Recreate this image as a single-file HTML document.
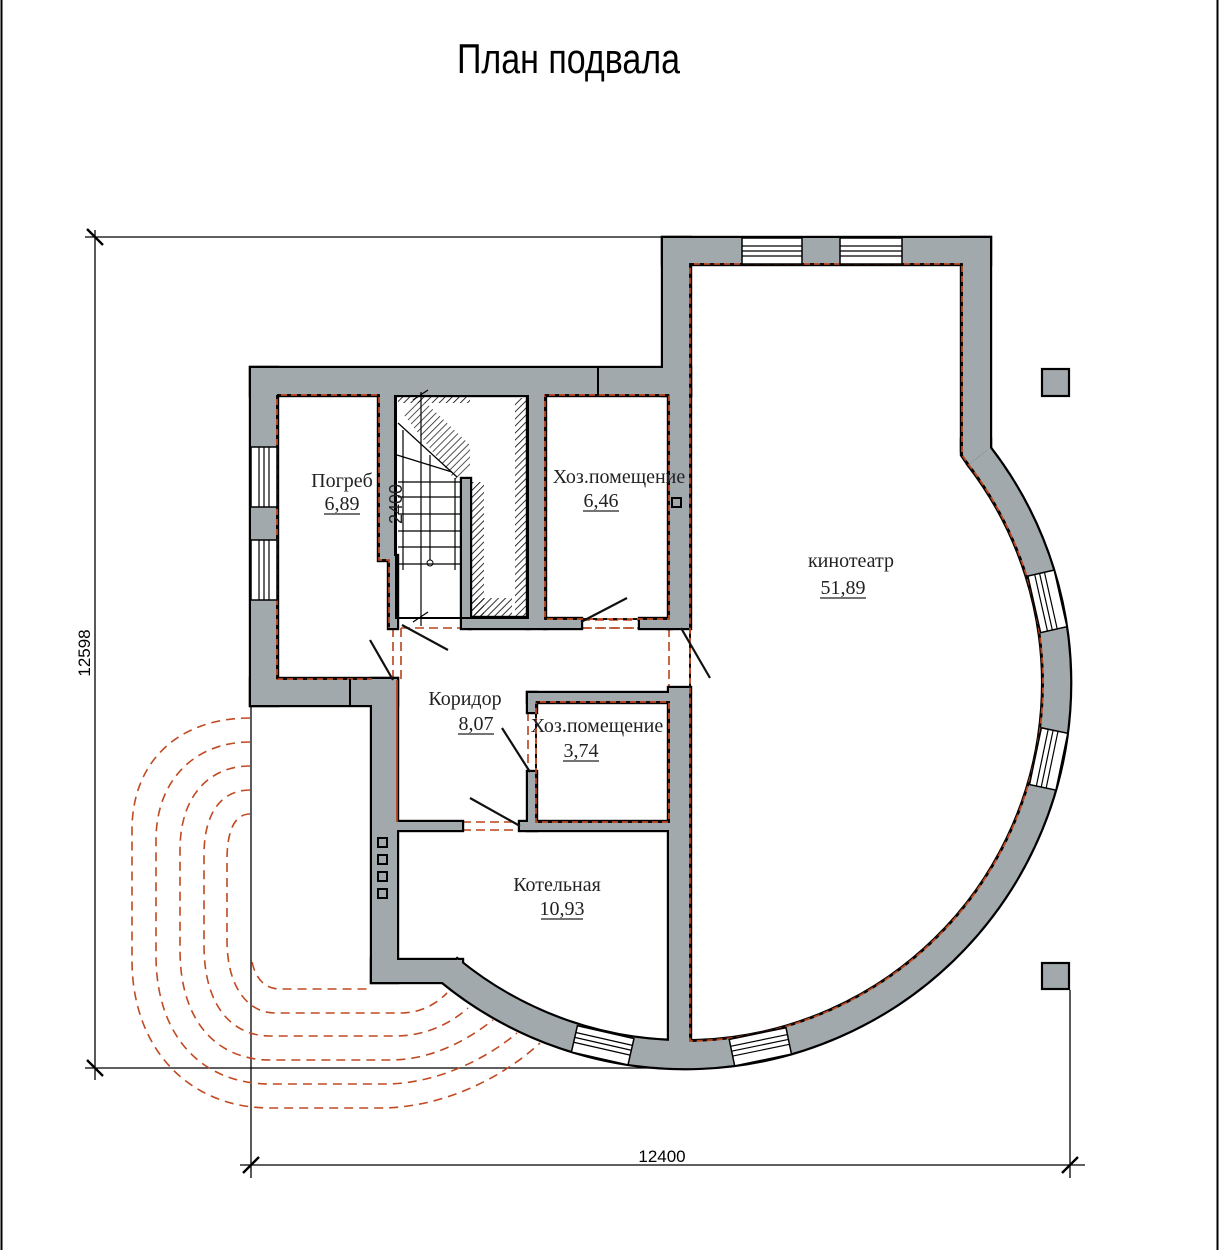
<!DOCTYPE html>
<html><head><meta charset="utf-8"><style>
html,body{margin:0;padding:0;background:#fff}
svg{display:block}
.t{font-family:"Liberation Serif",serif;font-size:20px;fill:#222}
.o{fill:none;stroke:#b8431c;stroke-width:1.6;stroke-dasharray:9 5}
.rd{fill:none;stroke:#b8431c;stroke-width:1.8}
.bd{fill:none;stroke:#000;stroke-width:1.8;stroke-dasharray:4 6}
.d{stroke:#111;stroke-width:2.2}
.win{fill:#fff;stroke:#000;stroke-width:1.5}
.l{stroke:#000;stroke-width:1.2}
</style></head><body>
<svg width="1220" height="1250" viewBox="0 0 1220 1250" xmlns="http://www.w3.org/2000/svg" xmlns:xlink="http://www.w3.org/1999/xlink">
<defs>
<pattern id="h" width="5" height="5" patternUnits="userSpaceOnUse" patternTransform="rotate(45)">
<line x1="0" y1="0" x2="0" y2="5" stroke="#000" stroke-width="1.6"/>
</pattern>
<g id="walls">
<path d="M990,448 A385,385 0 0 1 440,980 L457.3,959.4 A358,358 0 0 0 968.6,464.6 Z"/>
<polygon points="962,440 990,440 990,448 968.6,464.6 962,455"/>
<rect x="663" y="238" width="327" height="26"/>
<rect x="663" y="238" width="27" height="157"/>
<rect x="962" y="238" width="28" height="212"/>
<rect x="251" y="368" width="439" height="27"/>
<rect x="251" y="368" width="26" height="337"/>
<rect x="251" y="679" width="146" height="26"/>
<rect x="372" y="679" width="25" height="303"/>
<rect x="372" y="960" width="90" height="22"/>
<rect x="669" y="688" width="21" height="354"/>
<rect x="669" y="390" width="21" height="238"/>
<rect x="379" y="390" width="15" height="170"/>
<rect x="389" y="556" width="8" height="72"/>
<rect x="462" y="479" width="8" height="149"/>
<rect x="470" y="618" width="58" height="10"/>
<rect x="528" y="390" width="17" height="238"/>
<rect x="545" y="619" width="36" height="9"/>
<rect x="640" y="619" width="31" height="9"/>
<rect x="528" y="693" width="143" height="9"/>
<rect x="528" y="693" width="8" height="19"/>
<rect x="528" y="772" width="8" height="58"/>
<rect x="520" y="822" width="151" height="8"/>
<rect x="395" y="822" width="67" height="8"/>
</g>
</defs>
<line x1="1.5" y1="0" x2="1.5" y2="1250" stroke="#000" stroke-width="2"/>
<line x1="1217.5" y1="0" x2="1217.5" y2="1250" stroke="#000" stroke-width="2"/>
<text x="457" y="73" font-family="Liberation Sans, sans-serif" font-size="42" textLength="223" lengthAdjust="spacingAndGlyphs">План подвала</text>

<g stroke="#000" stroke-width="1.3">
<line x1="95" y1="230" x2="95" y2="1080"/>
<line x1="85" y1="237" x2="665" y2="237"/>
<line x1="85" y1="1068" x2="680" y2="1068"/>
<line x1="240" y1="1165" x2="1085" y2="1165"/>
<line x1="251" y1="705" x2="251" y2="1178"/>
<line x1="1070" y1="990" x2="1070" y2="1178"/>
</g>
<g stroke="#000" stroke-width="2.4">
<line x1="87" y1="229" x2="103" y2="245"/>
<line x1="87" y1="1060" x2="103" y2="1076"/>
<line x1="243" y1="1173" x2="259" y2="1157"/>
<line x1="1062" y1="1173" x2="1078" y2="1157"/>
</g>
<text x="90" y="653" font-family="Liberation Sans, sans-serif" font-size="17" transform="rotate(-90 90 653)" text-anchor="middle">12598</text>
<text x="662" y="1162" font-family="Liberation Sans, sans-serif" font-size="17" text-anchor="middle">12400</text>

<g fill="none" stroke="#c04a22" stroke-width="1.6" stroke-dasharray="9 6">
<path d="M250,718 C180,718 132,760 132,830 V960 C132,1050 190,1108 270,1108 H380 C440,1108 500,1080 540,1043"/>
<path d="M250,742 C195,742 156,780 156,840 V955 C156,1040 205,1084 270,1084 H385 C435,1084 485,1060 517,1033"/>
<path d="M250,766 C210,766 180,795 180,850 V950 C180,1025 220,1060 270,1060 H390 C430,1060 465,1042 493,1020"/>
<path d="M250,790 C222,790 204,812 204,855 V945 C204,1010 235,1036 270,1036 H395 C425,1036 450,1024 468,1008"/>
<path d="M250,814 C236,814 227,828 227,860 V940 C227,990 250,1013 275,1013 H400 C420,1013 435,1005 447,993"/>
<path d="M252,962 C256,980 266,989 280,989 H372"/>
</g>

<g class="o">
<line x1="581" y1="620" x2="640" y2="620"/><line x1="581" y1="628" x2="640" y2="628"/>
<line x1="393" y1="628" x2="393" y2="680"/><line x1="401" y1="628" x2="401" y2="680"/>
<line x1="669" y1="628" x2="669" y2="688"/><line x1="690" y1="628" x2="690" y2="688"/>
<line x1="462" y1="822" x2="520" y2="822"/><line x1="462" y1="830" x2="520" y2="830"/>
<line x1="528" y1="712" x2="528" y2="772"/><line x1="536" y1="712" x2="536" y2="772"/>
<line x1="401" y1="628" x2="669" y2="628"/>
</g>

<use xlink:href="#walls" href="#walls" fill="#a2a9ad" stroke="#000" stroke-width="4.4"/>
<use xlink:href="#walls" href="#walls" fill="#a2a9ad" stroke="none"/>

<g>
<path class="rd" d="M277,395 H379 V560 H389 V628 M277,395 V679 H372"/>
<rect class="rd" x="545" y="395" width="124" height="224"/>
<rect class="rd" x="536" y="702" width="133" height="120"/>
<path class="rd" d="M397,680 V822 M669,702 V822"/>
<path class="rd" d="M690,264 H962 V455 L968.6,464.6 A358,358 0 0 1 690,1041 Z"/>
<path class="bd" d="M277,395 H379 V560 H389 V628 M277,395 V679 H372"/>
<rect class="bd" x="545" y="395" width="124" height="224"/>
<rect class="bd" x="536" y="702" width="133" height="120"/>
<path class="bd" d="M690,264 H962 V455 L968.6,464.6 A358,358 0 0 1 690,1041 Z"/>
</g>

<g transform="rotate(-12.7 685 683)"><rect class="win" x="1043" y="654" width="27" height="58"/><line class="l" x1="1050" y1="654" x2="1050" y2="712"/><line class="l" x1="1055" y1="654" x2="1055" y2="712"/><line class="l" x1="1060" y1="654" x2="1060" y2="712"/></g>
<g transform="rotate(11.8 685 683)"><rect class="win" x="1043" y="654" width="27" height="58"/><line class="l" x1="1050" y1="654" x2="1050" y2="712"/><line class="l" x1="1055" y1="654" x2="1055" y2="712"/><line class="l" x1="1060" y1="654" x2="1060" y2="712"/></g>
<g transform="rotate(78.3 685 683)"><rect class="win" x="1043" y="654" width="27" height="58"/><line class="l" x1="1050" y1="654" x2="1050" y2="712"/><line class="l" x1="1055" y1="654" x2="1055" y2="712"/><line class="l" x1="1060" y1="654" x2="1060" y2="712"/></g>
<g transform="rotate(102.8 685 683)"><rect class="win" x="1043" y="654" width="27" height="58"/><line class="l" x1="1050" y1="654" x2="1050" y2="712"/><line class="l" x1="1055" y1="654" x2="1055" y2="712"/><line class="l" x1="1060" y1="654" x2="1060" y2="712"/></g>

<line x1="598" y1="368" x2="598" y2="395" stroke="#000" stroke-width="2"/>
<line x1="350" y1="679" x2="350" y2="705" stroke="#000" stroke-width="2"/>
<rect class="win" x="742" y="238" width="60" height="26"/><line class="l" x1="742" y1="246" x2="802" y2="246"/><line class="l" x1="742" y1="251" x2="802" y2="251"/><line class="l" x1="742" y1="256" x2="802" y2="256"/>
<rect class="win" x="840" y="238" width="62" height="26"/><line class="l" x1="840" y1="246" x2="902" y2="246"/><line class="l" x1="840" y1="251" x2="902" y2="251"/><line class="l" x1="840" y1="256" x2="902" y2="256"/>
<rect class="win" x="251" y="447" width="26" height="60"/><line class="l" x1="259" y1="447" x2="259" y2="507"/><line class="l" x1="264" y1="447" x2="264" y2="507"/><line class="l" x1="269" y1="447" x2="269" y2="507"/>
<rect class="win" x="251" y="540" width="26" height="60"/><line class="l" x1="259" y1="540" x2="259" y2="600"/><line class="l" x1="264" y1="540" x2="264" y2="600"/><line class="l" x1="269" y1="540" x2="269" y2="600"/>

<g fill="none" stroke="#000" stroke-width="2">
<rect x="378" y="838" width="9" height="9"/><rect x="378" y="855" width="9" height="9"/><rect x="378" y="872" width="9" height="9"/><rect x="378" y="889" width="9" height="9"/>
<rect x="672" y="498" width="9" height="9"/>
</g>
<rect x="1042" y="369" width="27" height="27" fill="#a2a9ad" stroke="#000" stroke-width="2.2"/>
<rect x="1042" y="963" width="27" height="26" fill="#a2a9ad" stroke="#000" stroke-width="2.2"/>

<g>
<rect x="396" y="396" width="132" height="222" fill="none" stroke="#000" stroke-width="2"/>
<rect x="398" y="397" width="72" height="6" fill="url(#h)"/>
<rect x="515" y="398" width="13" height="218" fill="url(#h)"/>
<rect x="470" y="482" width="14" height="134" fill="url(#h)"/>
<polygon points="404,415 420,397 470,445 470,470 455,480" fill="url(#h)" opacity="0.85"/>
<rect x="472" y="598" width="40" height="18" fill="url(#h)"/>
<g class="l">
<line x1="398" y1="423" x2="457" y2="477"/>
<line x1="397" y1="455" x2="452" y2="472"/>
<line x1="403" y1="430" x2="403" y2="570"/>
<line x1="421" y1="392" x2="421" y2="626"/>
<line x1="430" y1="455" x2="430" y2="560"/>
<line x1="455" y1="478" x2="455" y2="570"/>
<line x1="398" y1="482" x2="462" y2="482"/>
<line x1="398" y1="497" x2="462" y2="497"/>
<line x1="398" y1="514" x2="462" y2="514"/>
<line x1="398" y1="531" x2="462" y2="531"/>
<line x1="398" y1="547" x2="462" y2="547"/>
<line x1="398" y1="564" x2="462" y2="564"/>
<line x1="413" y1="622" x2="428" y2="612"/>
<line x1="413" y1="400" x2="428" y2="390"/>
</g>
<circle cx="430" cy="563" r="3" fill="none" stroke="#000" stroke-width="1"/>
</g>
<text x="396" y="504" transform="rotate(-90 396 504)" text-anchor="middle" dominant-baseline="central" font-family="Liberation Sans, sans-serif" font-size="18" fill="#222">2400</text>

<g class="d">
<line x1="370" y1="640" x2="393" y2="680"/>
<line x1="402" y1="625" x2="448" y2="650"/>
<line x1="581" y1="622" x2="627" y2="598"/>
<line x1="681" y1="628" x2="710" y2="678"/>
<line x1="502" y1="728" x2="530" y2="772"/>
<line x1="470" y1="798" x2="520" y2="826"/>
</g>

<g class="t" text-anchor="middle">
<text x="342" y="487">Погреб</text><text x="342" y="510">6,89</text>
<line x1="324" y1="514" x2="360" y2="514" stroke="#222" stroke-width="1.3"/>
<text x="619" y="483">Хоз.помещение</text><text x="601" y="507">6,46</text>
<line x1="583" y1="511" x2="619" y2="511" stroke="#222" stroke-width="1.3"/>
<text x="851" y="567">кинотеатр</text><text x="843" y="594">51,89</text>
<line x1="820" y1="598" x2="866" y2="598" stroke="#222" stroke-width="1.3"/>
<text x="465" y="705">Коридор</text><text x="476" y="730">8,07</text>
<line x1="458" y1="734" x2="494" y2="734" stroke="#222" stroke-width="1.3"/>
<text x="597" y="732">Хоз.помещение</text><text x="581" y="757">3,74</text>
<line x1="563" y1="761" x2="599" y2="761" stroke="#222" stroke-width="1.3"/>
<text x="557" y="891">Котельная</text><text x="562" y="915">10,93</text>
<line x1="541" y1="919" x2="583" y2="919" stroke="#222" stroke-width="1.3"/>
</g>
</svg>
</body></html>
